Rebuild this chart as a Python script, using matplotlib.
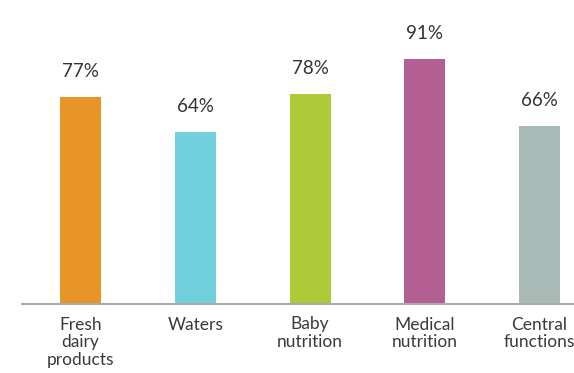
import matplotlib.pyplot as plt

plt.rcParams['font.family'] = ['Lato', 'DejaVu Sans']

# Share of sales by division
categories = ['Fresh\ndairy\nproducts', 'Waters', 'Baby\nnutrition', 'Medical\nnutrition', 'Central\nfunctions']
values = [77, 64, 78, 91, 66]
colors = ['#E69526', '#72CFDC', '#AECA38', '#B35F93', '#A8BAB5']

fig = plt.figure(figsize=(5.74, 3.73), dpi=100)
ax = fig.add_axes([22 / 574, 69 / 373, 552 / 574, 296 / 373])

x = range(len(values))
bars = ax.bar(x, values, width=0.357, color=colors)

# value labels above each bar
for b, v in zip(bars, values):
    ax.annotate(f'{v}%', (b.get_x() + b.get_width() / 2, v),
                xytext=(0, 17), textcoords='offset pixels',
                ha='center', va='bottom', fontsize=13.5, color='#333333')

ax.set_xlim(-0.51, 4.30)
ax.set_ylim(0, 110)
ax.set_xticks(list(x))
ax.set_xticklabels(categories, fontsize=12.5, color='#3a3a3a', linespacing=1.15)
ax.tick_params(axis='x', length=0, pad=9)
ax.set_yticks([])

for s in ['top', 'right', 'left']:
    ax.spines[s].set_visible(False)
ax.spines['bottom'].set_color('#aaaaaa')
ax.spines['bottom'].set_linewidth(1.5)

fig.savefig('out.png', dpi=100)
